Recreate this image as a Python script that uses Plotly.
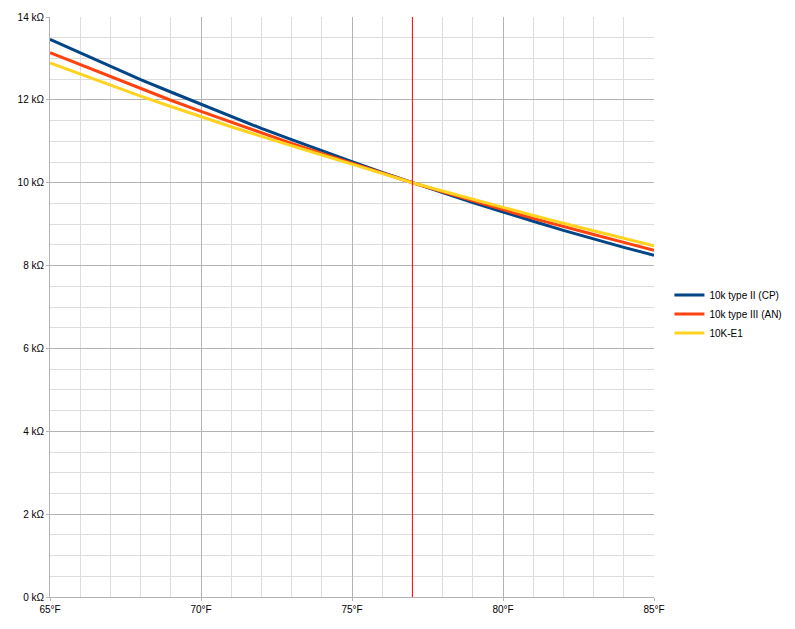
import plotly.graph_objects as go

temps_f = list(range(65, 86))

type2_cp = [13.46, 13.13, 12.81, 12.49, 12.19, 11.89, 11.60, 11.31, 11.04, 10.77,
            10.51, 10.25, 10.00, 9.76, 9.52, 9.29, 9.07, 8.85, 8.64, 8.44, 8.25]
type3_an = [13.14, 12.85, 12.56, 12.27, 11.99, 11.72, 11.46, 11.20, 10.95, 10.71,
            10.47, 10.23, 10.00, 9.78, 9.56, 9.35, 9.14, 8.94, 8.75, 8.56, 8.37]
k10_e1 = [12.89, 12.62, 12.35, 12.09, 11.84, 11.59, 11.35, 11.12, 10.89, 10.67,
          10.45, 10.22, 10.00, 9.80, 9.60, 9.41, 9.21, 9.02, 8.84, 8.66, 8.48]

series_names = ["10k type II (CP)", "10k type III (AN)", "10K-E1"]
series_colors = ["#004586", "#ff420e", "#ffd320"]
reference_temp = 77

fig = go.Figure()
for name, vals, col in zip(series_names, [type2_cp, type3_an, k10_e1], series_colors):
    fig.add_trace(go.Scatter(x=temps_f, y=vals, name=name, mode="lines",
                             line=dict(color=col, width=3)))

# 77°F reference line
fig.add_shape(type="line", x0=reference_temp, x1=reference_temp, y0=0, y1=1,
              xref="x", yref="paper", line=dict(color="#ff0000", width=1), layer="above")

fig.update_xaxes(range=[65, 85], dtick=5, tick0=65, ticksuffix="°F",
                 showgrid=True, gridcolor="#b3b3b3", gridwidth=1,
                 minor=dict(dtick=1, showgrid=True, gridcolor="#dddddd", gridwidth=1),
                 showline=True, linecolor="#b3b3b3", linewidth=1,
                 ticks="outside", ticklen=3, tickcolor="#b3b3b3",
                 zeroline=False, automargin=False, fixedrange=True)
fig.update_yaxes(range=[0, 14], dtick=2, ticksuffix=" kΩ",
                 showgrid=True, gridcolor="#b3b3b3", gridwidth=1,
                 minor=dict(dtick=0.5, showgrid=True, gridcolor="#dddddd", gridwidth=1),
                 showline=True, linecolor="#b3b3b3", linewidth=1,
                 ticks="outside", ticklen=3, tickcolor="#b3b3b3",
                 zeroline=False, automargin=False, fixedrange=True)

# page body adds ~8px offset, so margins are shifted to compensate
fig.update_layout(
    width=795, height=629,
    margin=dict(l=42, r=149, t=9, b=40),
    plot_bgcolor="white", paper_bgcolor="white",
    font=dict(family="Liberation Sans, Arial, sans-serif", size=10, color="#000000"),
    legend=dict(xref="container", yref="container", x=0.832, y=0.5135,
                xanchor="left", yanchor="middle",
                font=dict(size=10), itemwidth=30, tracegroupgap=0,
                bgcolor="rgba(0,0,0,0)"),
    showlegend=True,
)

fig.write_html("out.html")
